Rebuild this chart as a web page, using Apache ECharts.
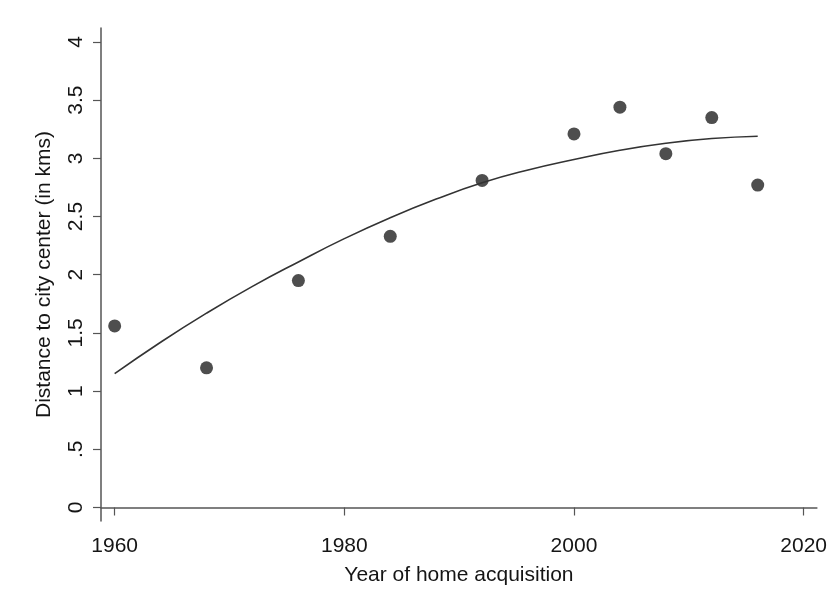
<!DOCTYPE html>
<html>
<head>
<meta charset="utf-8">
<script src="https://cdn.jsdelivr.net/npm/echarts@6/dist/echarts.min.js"></script>
<style>html,body{margin:0;padding:0;background:#fff;}#c{width:830px;height:607px;}</style>
</head>
<body>
<div id="c"></div>
<script>
// Observed points
const years = [1960, 1968, 1976, 1984, 1992, 2000, 2004, 2008, 2012, 2016];
const distances = [1.56, 1.20, 1.95, 2.33, 2.81, 3.21, 3.44, 3.04, 3.35, 2.77];
// Quadratic fit curve
const fitYears = [1960, 1964, 1968, 1972, 1976, 1980, 1984, 1988, 1992, 1996, 2000, 2004, 2008, 2012, 2016];
const fitValues = [1.15, 1.42, 1.67, 1.90, 2.11, 2.31, 2.49, 2.65, 2.79, 2.90, 2.99, 3.07, 3.13, 3.17, 3.19];
// Tick labels
const xTicks = [1960, 1980, 2000, 2020];
const yTicks = [0, 0.5, 1, 1.5, 2, 2.5, 3, 3.5, 4];
const yTickLabels = ['0', '.5', '1', '1.5', '2', '2.5', '3', '3.5', '4'];

const font = 'Liberation Sans, Arial, sans-serif';
const chart = echarts.init(document.getElementById('c'), null, {renderer: 'canvas'});
chart.setOption({
  animation: false,
  backgroundColor: '#ffffff',
  grid: {left: 101, right: 10, top: 28, bottom: 86, containLabel: false},
  xAxis: {
    type: 'value', min: 1958.81, max: 2021.15,
    name: 'Year of home acquisition', nameLocation: 'middle', nameGap: 44,
    nameTextStyle: {fontFamily: font, fontSize: 21, color: '#151515'},
    axisLine: {show: true, lineStyle: {color: '#555', width: 1.5}},
    axisTick: {show: true, length: 8, lineStyle: {color: '#555', width: 1.2}, customValues: xTicks},
    axisLabel: {fontFamily: font, fontSize: 21, color: '#151515', margin: 15, customValues: xTicks,
      formatter: v => String(v)},
    splitLine: {show: false}
  },
  yAxis: {
    type: 'value', min: -0.116, max: 4.12,
    name: 'Distance to city center (in kms)', nameLocation: 'middle', nameGap: 46, nameRotate: 90,
    nameTextStyle: {fontFamily: font, fontSize: 21, color: '#151515'},
    axisLine: {show: true, lineStyle: {color: '#555', width: 1.5}},
    axisTick: {show: true, length: 8, lineStyle: {color: '#555', width: 1.2}, customValues: yTicks},
    axisLabel: {fontFamily: font, fontSize: 21, color: '#151515', margin: 14, rotate: 90, customValues: yTicks,
      formatter: v => { const i = yTicks.indexOf(Math.round(v*10)/10); return i >= 0 ? yTickLabels[i] : ''; }},
    splitLine: {show: false}
  },
  series: [
    {
      type: 'scatter', symbol: 'circle', symbolSize: 13,
      itemStyle: {color: '#222'},
      data: years.map((y, i) => [y, distances[i]])
    },
    {
      type: 'line', smooth: true, symbol: 'none',
      lineStyle: {color: '#333', width: 1.6},
      data: fitYears.map((y, i) => [y, fitValues[i]])
    }
  ]
});
</script>
</body>
</html>
